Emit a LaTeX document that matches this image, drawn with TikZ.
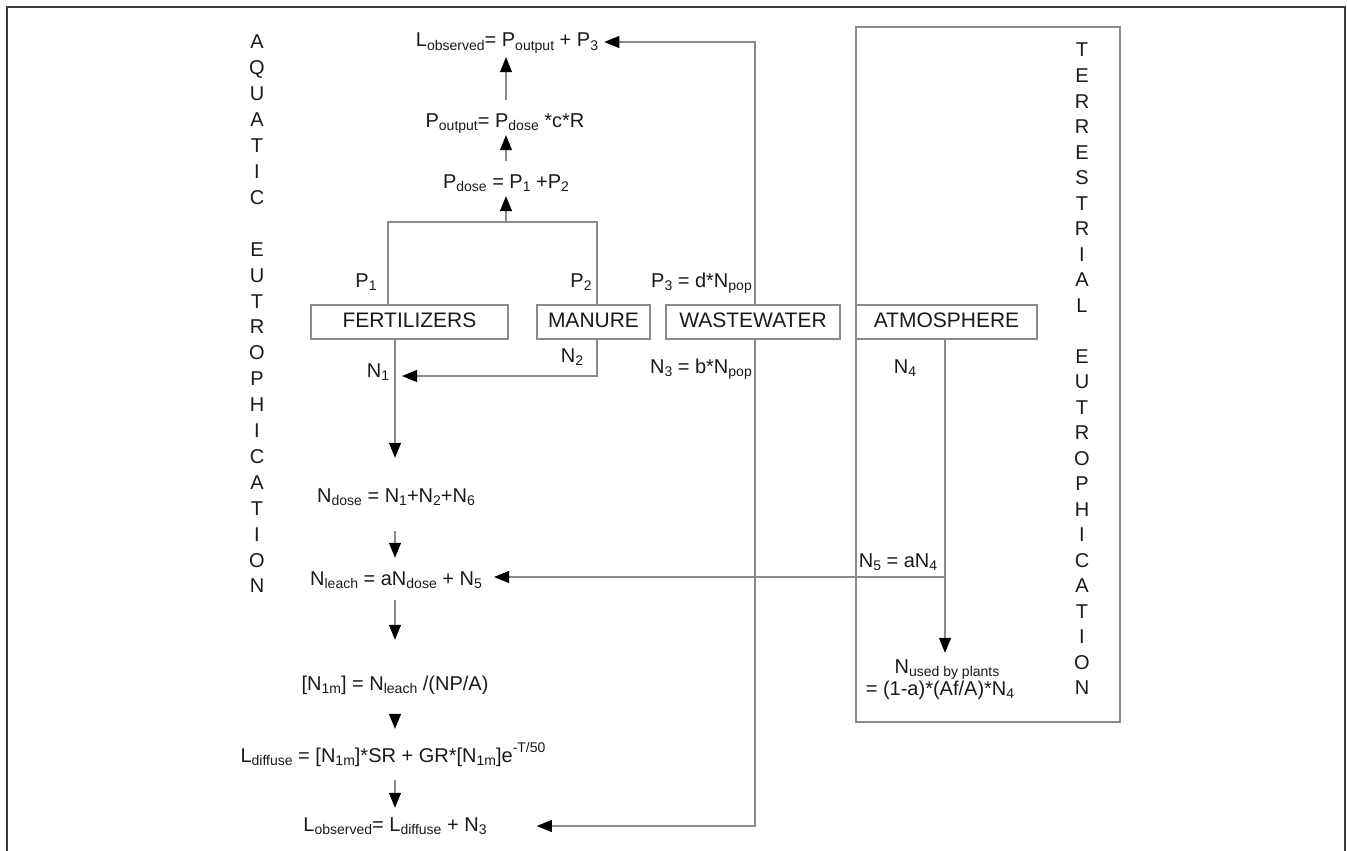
\documentclass[tikz,border=0pt]{standalone}
\usepackage{fontspec}
\setmainfont{Liberation Sans}
\usetikzlibrary{arrows.meta,calc}
\definecolor{txt}{HTML}{1A1A1A}
\definecolor{lgray}{HTML}{8A8A8A}
\definecolor{framec}{HTML}{3C3C3C}
\newcommand{\sbs}[1]{\raisebox{-0.3ex}{\fontsize{14}{14}\selectfont #1}}
\newcommand{\sps}[1]{\raisebox{0.9ex}{\fontsize{14}{14}\selectfont #1}}
\begin{document}
\begin{tikzpicture}[x=1pt,y=-1pt,
  every node/.style={font=\fontsize{20}{24}\selectfont, text=txt, inner sep=0pt, text height=15pt, text depth=5pt},
  conn/.style={draw=lgray, line width=1.1pt},
  arr/.style={conn, -{Triangle[length=15pt,width=12pt,color=black,fill=black]}},
  srcbox/.style={draw=lgray, line width=1.1pt, minimum height=34pt, font=\fontsize{21}{24}\selectfont},
  vlet/.style={font=\fontsize{20}{20}\selectfont}]
\useasboundingbox (0,0) rectangle (1347,851);
\draw[draw=framec, line width=2.2pt] (7,880) -- (7,7) -- (1345,7) -- (1345,880);

% terrestrial box
\node[draw=lgray, line width=1.1pt, minimum width=264pt, minimum height=695pt] (tbox) at (988,374.5) {};

% P chain
\node (lobs) at (507,42) {L\sbs{observed}= P\sbs{output} + P\sbs{3}};
\node (pout) at (505,122) {P\sbs{output}= P\sbs{dose} *c*R};
\node (pdose) at (506,183) {P\sbs{dose} = P\sbs{1} +P\sbs{2}};

% sources
\node[srcbox, minimum width=197pt] (fert) at (409.5,322) {FERTILIZERS};
\node[srcbox, minimum width=113pt] (man) at (593.5,322) {MANURE};
\node[srcbox, minimum width=174pt] (waste) at (753,322) {WASTEWATER};
\node[srcbox, minimum width=181pt] (atm) at (946.5,322) {ATMOSPHERE};

% labels
\node (p1) at (366,282) {P\sbs{1}};
\node (p2) at (581,282) {P\sbs{2}};
\node[anchor=east] (p3) at (752,282) {P\sbs{3} = d*N\sbs{pop}};
\node (n1) at (378,372) {N\sbs{1}};
\node (n2) at (572,357) {N\sbs{2}};
\node[anchor=east] (n3) at (752,368) {N\sbs{3} = b*N\sbs{pop}};
\node (n4) at (905,368) {N\sbs{4}};

% N chain
\node (ndose) at (396,497) {N\sbs{dose} = N\sbs{1}+N\sbs{2}+N\sbs{6}};
\node (nleach) at (396,580) {N\sbs{leach} = aN\sbs{dose} + N\sbs{5}};
\node (n1m) at (395,685) {[N\sbs{1m}] = N\sbs{leach} /(NP/A)};
\node (ldiff) at (393,757) {L\sbs{diffuse} = [N\sbs{1m}]*SR + GR*[N\sbs{1m}]e\sps{-T/50}};
\node (lobs2) at (395,826) {L\sbs{observed}= L\sbs{diffuse} + N\sbs{3}};

% right side
\node (n5) at (898,562) {N\sbs{5} = aN\sbs{4}};
\node (nused) at (947,668) {N\sbs{used by plants}};
\node (nused2) at (940,690) {= (1-a)*(Af/A)*N\sbs{4}};

% vertical titles
\foreach \c [count=\i from 0] in {A,Q,U,A,T,I,C,,E,U,T,R,O,P,H,I,C,A,T,I,O,N}
  \node[vlet] (aq\i) at (257,44+\i*25.9) {\c};
\foreach \c [count=\i from 0] in {T,E,R,R,E,S,T,R,I,A,L,,E,U,T,R,O,P,H,I,C,A,T,I,O,N}
  \node[vlet] (te\i) at (1082,52+\i*25.5) {\c};

% helper coordinates
\coordinate (xl) at (388,0);
\coordinate (xr) at (597,0);
\coordinate (xp) at (506,0);
\coordinate (jy) at (0,222);
\coordinate (xn) at (395,0);
\coordinate (xw) at (755,0);
\coordinate (xa) at (945,0);
\coordinate (n2tip) at (402,376);
\coordinate (n5y) at (0,577);
\path (nleach.east) ++(12,0) coordinate (nlt);
\path (lobs2.east) ++(50,0) coordinate (lo2t);

% connectors
\draw[conn] (fert.north -| xl) -- (xl |- jy) -- (xr |- jy) -- (man.north -| xr);
\draw[arr, shorten >=3pt] (xp |- jy) -- (xp |- pdose.south);
\draw[arr, shorten <=12pt, shorten >=3pt] (xp |- pdose.north) -- (xp |- pout.south);
\draw[arr, shorten <=12pt, shorten >=5pt] (xp |- pout.north) -- (xp |- lobs.south);
\draw[arr, shorten >=6pt] (waste.north -| xw) |- (lobs.east);
\draw[arr] (waste.south -| xw) |- (lo2t |- lobs2.east);
\draw[arr, shorten >=29pt] (fert.south -| xn) -- (xn |- ndose.north);
\draw[arr] (man.south -| xr) |- (n2tip);
\draw[arr, shorten <=24pt, shorten >=12pt] (ndose.south -| xn) -- (xn |- nleach.north);
\draw[arr, shorten <=10pt, shorten >=35pt] (nleach.south -| xn) -- (xn |- n1m.north);
\draw[arr, shorten <=20pt, shorten >=18pt] (n1m.south -| xn) -- (xn |- ldiff.north);
\draw[arr, shorten <=13pt, shorten >=8pt] (ldiff.south -| xn) -- (xn |- lobs2.north);
\draw[arr, shorten >=5pt] (atm.south -| xa) -- (xa |- nused.north);
\draw[arr] (xa |- n5y) -- (nlt |- n5y);
\end{tikzpicture}
\end{document}
